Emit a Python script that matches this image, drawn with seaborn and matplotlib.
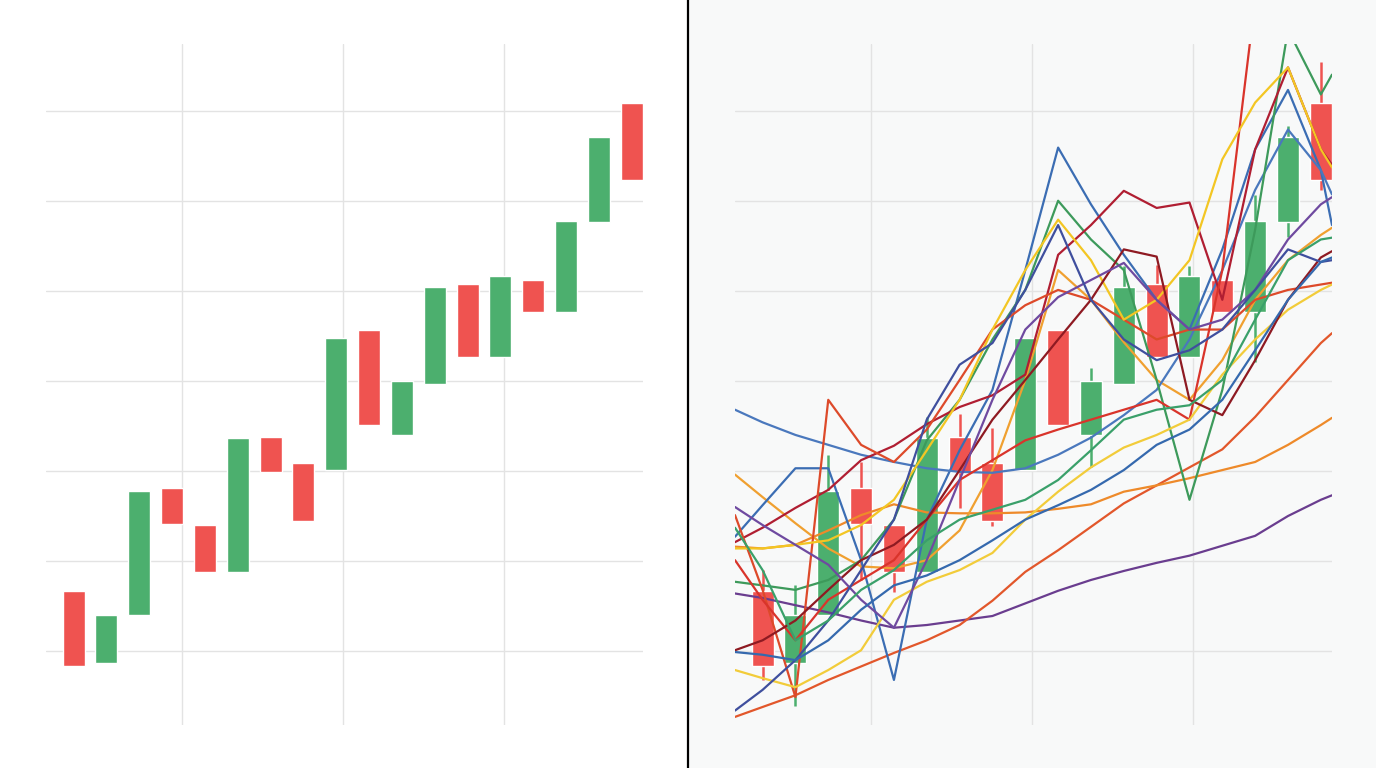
import matplotlib
matplotlib.use("Agg")
import matplotlib.pyplot as plt
from matplotlib.lines import Line2D
from matplotlib.patches import Rectangle
import seaborn as sns

sns.set_style("white")

# daily candles
opens  = [106.7, 98.7, 104.0, 118.1, 114.0, 108.8, 123.8, 120.9, 120.1, 135.7,
          124.0, 129.7, 140.8, 132.6, 141.2, 137.7, 147.6, 160.8]
closes = [98.3, 104.0, 117.8, 114.1, 108.8, 123.7, 119.9, 114.4, 134.8, 125.1,
          130.0, 140.4, 132.6, 141.6, 137.6, 147.8, 157.1, 152.3]
highs  = [109.0, 107.3, 121.8, 121.0, 114.0, 126.0, 126.3, 124.8, 134.8, 135.7,
          131.4, 142.7, 142.9, 142.8, 141.2, 150.6, 158.3, 165.4]
lows   = [96.8, 93.9, 104.0, 107.9, 106.6, 108.8, 115.9, 113.9, 120.1, 125.1,
          120.4, 129.7, 132.6, 132.6, 137.6, 132.1, 146.0, 151.2]

# grid positions (weekly ticks / price levels)
week_ticks = [3.3, 8.2, 13.1]
price_levels = [100, 110, 120, 130, 140, 150, 160]

# overlay lines, sampled at left edge, each candle, right edge
line_x = [-0.84] + list(range(18)) + [17.34]

purple_a = [106.4, 105.9, 105.1, 104.3, 103.4, 102.6, 102.9, 103.4, 103.9, 105.3,
            106.7, 107.9, 108.9, 109.8, 110.6, 111.7, 112.8, 115.0, 116.8, 117.3]
orange_red = [92.7, 93.8, 95.1, 96.8, 98.3, 99.8, 101.2, 102.9, 105.6, 108.8,
              111.2, 113.8, 116.4, 118.4, 120.4, 122.4, 126.0, 130.1, 134.2, 135.3]
orange_a = [111.6, 111.4, 111.8, 113.4, 115.1, 116.3, 115.4, 115.3, 115.3, 115.4,
            115.8, 116.3, 117.7, 118.4, 119.2, 120.1, 121.0, 122.9, 125.1, 125.9]
orange_b = [119.6, 117.1, 114.2, 111.4, 109.4, 109.2, 110.1, 113.4, 120.1, 130.1,
            142.3, 139.0, 134.3, 130.1, 127.9, 132.3, 139.0, 143.4, 146.2, 147.0]
blue_a = [112.7, 116.2, 120.3, 120.3, 110.1, 96.8, 114.6, 122.3, 129.0, 142.3,
          155.9, 149.6, 144.0, 139.0, 135.7, 144.6, 155.7, 162.3, 153.4, 147.3]
blue_b = [126.8, 125.4, 124.0, 122.9, 121.8, 121.0, 120.3, 119.9, 119.8, 120.3,
          121.8, 123.7, 126.2, 129.0, 134.6, 142.3, 151.2, 157.9, 153.4, 150.7]
green_a = [107.7, 107.3, 106.8, 107.9, 110.1, 114.6, 123.4, 127.9, 134.6, 140.1,
           150.0, 145.7, 142.3, 130.1, 116.8, 129.0, 146.8, 169.0, 161.8, 164.0]
darkred_a = [112.1, 113.7, 115.9, 117.9, 121.2, 122.8, 125.2, 127.1, 128.4, 130.7,
             144.0, 147.3, 151.1, 149.2, 149.8, 139.0, 155.7, 164.8, 155.7, 154.0]
red_a = [115.1, 106.8, 94.9, 127.9, 122.9, 121.0, 124.6, 130.1, 135.7, 138.4,
         140.1, 139.0, 136.8, 134.6, 135.7, 135.7, 139.0, 140.1, 140.7, 140.9]
red_b = [110.1, 105.7, 101.2, 105.7, 107.9, 110.1, 114.6, 119.0, 121.2, 123.4,
         124.6, 125.7, 126.8, 127.9, 125.7, 142.3, 172.3, 183.4, 189.0, 190.1]
yellow_a = [111.4, 111.4, 111.8, 112.3, 114.0, 116.8, 122.3, 127.9, 135.7, 142.3,
            147.9, 143.4, 136.8, 139.0, 143.4, 154.6, 160.9, 164.8, 155.7, 153.7]
yellow_b = [97.9, 97.0, 96.0, 97.9, 100.1, 105.7, 107.7, 109.0, 110.9, 114.6,
            117.7, 120.4, 122.6, 124.0, 125.7, 130.7, 134.6, 137.9, 140.1, 140.7]
darkred_b = [100.1, 101.2, 103.4, 106.8, 110.1, 111.8, 114.6, 120.1, 125.7, 130.1,
             134.6, 139.0, 144.6, 143.8, 127.9, 126.2, 132.3, 139.0, 143.7, 144.4]
purple_b = [116.0, 114.0, 111.8, 109.6, 105.7, 102.6, 110.1, 119.0, 127.9, 135.7,
            139.3, 141.2, 143.1, 139.0, 135.7, 136.8, 140.1, 145.7, 149.6, 150.4]
navy = [93.4, 95.7, 99.0, 103.4, 109.0, 114.6, 125.7, 131.8, 134.2, 140.1,
        147.3, 139.0, 134.6, 132.3, 133.4, 135.7, 140.1, 144.6, 143.2, 143.4]
green_b = [113.7, 109.0, 101.2, 103.4, 106.8, 109.0, 112.3, 114.6, 115.7, 116.8,
           119.0, 122.3, 125.7, 126.8, 127.3, 130.1, 136.8, 143.4, 145.7, 145.9]
blue_c = [99.9, 99.6, 99.0, 101.2, 104.6, 107.3, 108.4, 110.1, 112.3, 114.6,
          116.2, 117.9, 120.1, 122.9, 124.6, 127.9, 133.4, 139.0, 143.2, 143.7]

overlay = [
    (purple_a, "#6a3d8f"), (orange_red, "#e2572b"), (orange_a, "#ee8a2a"),
    (orange_b, "#f0a030"), (blue_a, "#3b6db3"), (blue_b, "#4a78bd"),
    (green_a, "#3d9a5b"), (darkred_a, "#b01e32"), (red_a, "#dd4a2a"),
    (red_b, "#d9342b"), (yellow_a, "#f3c623"), (yellow_b, "#f2cc3a"),
    (darkred_b, "#8e1a22"), (purple_b, "#6f4aa0"), (navy, "#3f4f9e"),
    (green_b, "#3aa06a"), (blue_c, "#3569ae"),
]

GREEN = "#4caf6e"
RED = "#ef5350"

fig = plt.figure(figsize=(13.76, 7.68), dpi=100)
fig.patches.append(Rectangle((0.5, 0), 0.5, 1, transform=fig.transFigure,
                             color="#f8f9f9", zorder=-5))
fig.add_artist(Line2D([0.5, 0.5], [0, 1], transform=fig.transFigure,
                      color="black", lw=1.6, zorder=10))

ax_l = fig.add_axes([46 / 1376, 43 / 768, 597 / 1376, 681 / 768])
ax_r = fig.add_axes([735 / 1376, 43 / 768, 597 / 1376, 681 / 768])

x = list(range(len(opens)))
cols = [GREEN if c >= o else RED for o, c in zip(opens, closes)]
bottoms = [min(o, c) for o, c in zip(opens, closes)]
heights = [abs(c - o) for o, c in zip(opens, closes)]

for ax in (ax_l, ax_r):
    ax.set_xlim(-0.84, 17.34)
    ax.set_ylim(91.8, 167.4)
    ax.set_xticks(week_ticks)
    ax.set_yticks(price_levels)
    ax.set_xticklabels([])
    ax.set_yticklabels([])
    ax.tick_params(length=0)
    ax.grid(True, color="#e3e3e3", lw=1)
    ax.set_axisbelow(True)
    sns.despine(ax=ax, left=True, bottom=True)
    ax.bar(x, heights, bottom=bottoms, width=0.67, color=cols, zorder=2)

ax_l.set_facecolor("white")
ax_r.set_facecolor("#f8f9f9")

# wicks on the right panel only
ax_r.vlines(x, lows, highs, colors=cols, lw=1.8, zorder=1.9)

for vals, c in overlay:
    sns.lineplot(x=line_x, y=vals, color=c, lw=1.6, ax=ax_r, zorder=3)

fig.savefig("out.png", dpi=100)
